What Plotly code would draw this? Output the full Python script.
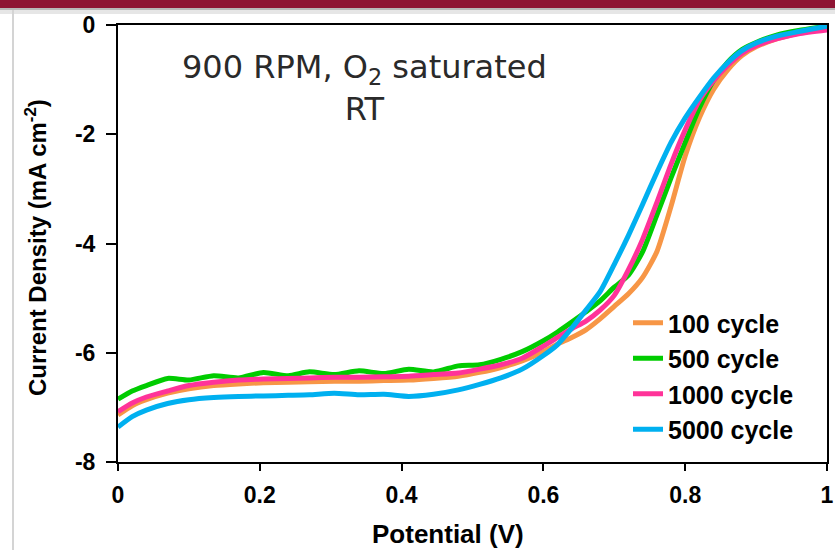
import plotly.graph_objects as go

# ---------------- data ----------------
potential = [0.00, 0.02, 0.04, 0.07, 0.10, 0.135, 0.17, 0.205, 0.24, 0.27, 0.305, 0.34,
             0.375, 0.41, 0.445, 0.48, 0.51, 0.54, 0.57, 0.60, 0.62, 0.64, 0.66, 0.68,
             0.70, 0.72, 0.74, 0.76, 0.78, 0.80, 0.82, 0.84, 0.86, 0.88, 0.90, 0.93,
             0.96, 1.00]

cycle_100 = [-7.14, -6.97, -6.86, -6.74, -6.66, -6.60, -6.57, -6.55, -6.54, -6.53, -6.52, -6.52,
             -6.51, -6.50, -6.47, -6.43, -6.36, -6.27, -6.15, -5.98, -5.84, -5.72, -5.58, -5.38,
             -5.15, -4.92, -4.62, -4.15, -3.32, -2.40, -1.70, -1.18, -0.82, -0.56, -0.40, -0.25,
             -0.15, -0.06]

cycle_500 = [-6.85, -6.70, -6.60, -6.47, -6.50, -6.42, -6.46, -6.36, -6.42, -6.35, -6.40, -6.33,
             -6.38, -6.30, -6.35, -6.24, -6.22, -6.12, -5.98, -5.78, -5.62, -5.44, -5.25, -5.05,
             -4.80, -4.58, -4.15, -3.48, -2.80, -2.15, -1.52, -1.02, -0.68, -0.45, -0.32, -0.18,
             -0.10, -0.02]

cycle_1000 = [-7.08, -6.92, -6.81, -6.70, -6.60, -6.54, -6.50, -6.48, -6.47, -6.46, -6.45, -6.45,
              -6.44, -6.43, -6.40, -6.37, -6.30, -6.22, -6.10, -5.88, -5.72, -5.56, -5.42, -5.22,
              -4.95, -4.48, -3.92, -3.25, -2.55, -1.92, -1.38, -1.02, -0.74, -0.52, -0.38, -0.25,
              -0.16, -0.09]

cycle_5000 = [-7.36, -7.17, -7.05, -6.93, -6.86, -6.82, -6.80, -6.79, -6.78, -6.77, -6.74, -6.77,
              -6.76, -6.80, -6.76, -6.68, -6.58, -6.46, -6.30, -6.05, -5.85, -5.55, -5.22, -4.88,
              -4.38, -3.85, -3.28, -2.70, -2.15, -1.70, -1.32, -0.97, -0.69, -0.47, -0.33, -0.20,
              -0.12, -0.02]

series_names = ["100 cycle", "500 cycle", "1000 cycle", "5000 cycle"]
series_values = [cycle_100, cycle_500, cycle_1000, cycle_5000]
series_colors = ["#F79646", "#00CC00", "#FF3399", "#00B0F0"]

x_ticks = [0, 0.2, 0.4, 0.6, 0.8, 1]
x_tick_labels = ["0", "0.2", "0.4", "0.6", "0.8", "1"]
y_ticks = [0, -2, -4, -6, -8]
y_tick_labels = ["0", "-2", "-4", "-6", "-8"]

# ---------------- layout geometry ----------------
W, H = 835, 550
L, R, T, B = 118, 8, 25, 88
PW, PH = W - L - R, H - T - B


def px_x(px):
    return (px - L) / PW


def px_y(py):
    return (H - B - py) / PH


fig = go.Figure()
for name, vals, col in zip(series_names, series_values, series_colors):
    fig.add_trace(go.Scatter(
        x=potential, y=vals, mode="lines", name=name,
        line=dict(color=col, width=5, shape="spline", smoothing=0.6),
        legendgroup=name,
    ))

tick_font = dict(family="Liberation Sans, Arial, sans-serif", size=23, color="black", weight="bold")

fig.update_layout(
    width=W, height=H, autosize=False,
    margin=dict(l=L, r=R, t=T, b=B, autoexpand=False),
    paper_bgcolor="white", plot_bgcolor="white",
    showlegend=True,
    legend=dict(
        x=px_x(628), y=px_y(300), xanchor="left", yanchor="top",
        bgcolor="rgba(0,0,0,0)", borderwidth=0,
        font=dict(family="Liberation Sans, Arial, sans-serif", size=25, color="black", weight="bold"),
        tracegroupgap=0,
    ),
    xaxis=dict(
        range=[0, 1], tickvals=x_ticks, ticktext=x_tick_labels,
        showline=True, linecolor="black", linewidth=2, mirror=True,
        ticks="outside", ticklen=7, tickwidth=1.5, tickcolor="black",
        showgrid=False, zeroline=False, tickfont=tick_font,
        ticklabelstandoff=4, automargin=False,
    ),
    yaxis=dict(
        range=[-8, 0], tickvals=y_ticks, ticktext=y_tick_labels,
        showline=True, linecolor="black", linewidth=2, mirror=True,
        ticks="outside", ticklen=10, tickwidth=1.5, tickcolor="black",
        showgrid=False, zeroline=False, tickfont=tick_font,
        ticklabelstandoff=6, automargin=False,
    ),
)

# axis titles
fig.add_annotation(
    x=px_x(448), y=px_y(534), xref="paper", yref="paper",
    text="Potential (V)", showarrow=False, xanchor="center", yanchor="middle",
    font=dict(family="Liberation Sans, Arial, sans-serif", size=26, color="black", weight="bold"),
)
fig.add_annotation(
    x=px_x(36), y=px_y(248), xref="paper", yref="paper", textangle=-90,
    text="Current Density (mA cm<sup>-2</sup>)", showarrow=False,
    xanchor="center", yanchor="middle",
    font=dict(family="Liberation Sans, Arial, sans-serif", size=24, color="black", weight="bold"),
)
# in-plot note
fig.add_annotation(
    x=px_x(364), y=px_y(88), xref="paper", yref="paper",
    text="900 RPM, O<sub>2</sub> saturated<br>RT", showarrow=False,
    xanchor="center", yanchor="middle", align="center",
    font=dict(family="DejaVu Sans, Verdana, sans-serif", size=32, color="#2a2a2a"),
)

# slide decoration (top bar, shadow, left rule)
fig.add_shape(type="rect", xref="paper", yref="paper", layer="above",
              x0=px_x(0), x1=px_x(W), y0=px_y(0), y1=px_y(8),
              fillcolor="#8E1433", line=dict(width=0))
fig.add_shape(type="rect", xref="paper", yref="paper", layer="above",
              x0=px_x(0), x1=px_x(W), y0=px_y(8), y1=px_y(10),
              fillcolor="#B8B8B8", line=dict(width=0))
fig.add_shape(type="rect", xref="paper", yref="paper", layer="below",
              x0=px_x(0), x1=px_x(W), y0=px_y(10), y1=px_y(14),
              fillcolor="#E6E6E6", line=dict(width=0))
fig.add_shape(type="line", xref="paper", yref="paper", layer="below",
              x0=px_x(13), x1=px_x(13), y0=px_y(10), y1=px_y(H),
              line=dict(color="#D4D4D4", width=2))

fig.write_html(
    "out.html",
    config={"displayModeBar": False, "responsive": False},
    post_script="document.body.style.margin='0px';document.body.style.overflow='hidden';",
)
